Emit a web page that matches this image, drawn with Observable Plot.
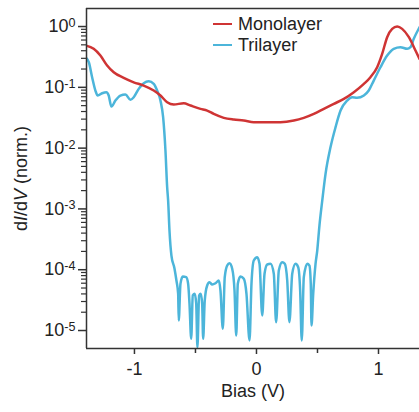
<!DOCTYPE html>
<html><head><meta charset="utf-8">
<script src="https://cdn.jsdelivr.net/npm/d3@7"></script>
<script src="https://cdn.jsdelivr.net/npm/@observablehq/plot@0.6"></script>
<style>
body{margin:0;background:#fff;}
#wrap{position:relative;width:419px;height:412px;font-family:Arial,"Liberation Sans",sans-serif;overflow:hidden;}
.legend{position:absolute;left:213px;top:13.5px;font-size:18px;color:#222;}
.legend .row{display:flex;align-items:center;height:21px;}
.legend .sw{display:inline-block;width:19px;height:2.5px;margin-right:6px;}
</style></head><body><div id="wrap"></div>
<script>
// ---- data ----
const seriesNames = ["Monolayer", "Trilayer"];
const seriesColors = ["#cf3434", "#4cb5da"];

const monoBias = [-1.396,-1.334,-1.279,-1.224,-1.170,-1.088,-1.006,-0.924,-0.842,-0.787,-0.732,-0.678,-0.596,-0.541,-0.459,-0.404,-0.350,-0.268,-0.186,-0.104,-0.022,0.087,0.197,0.306,0.388,0.470,0.552,0.634,0.716,0.798,0.880,0.934,0.989,1.030,1.071,1.112,1.153,1.194,1.249,1.303,1.336];
const monoDIdV = [0.486,0.430,0.333,0.229,0.177,0.143,0.121,0.107,0.0885,0.0733,0.0569,0.0521,0.0548,0.0502,0.0443,0.0415,0.0366,0.0315,0.0295,0.0284,0.0267,0.0267,0.0267,0.0284,0.0315,0.0366,0.0443,0.0535,0.0646,0.0832,0.114,0.147,0.214,0.355,0.668,0.916,1.0,0.916,0.668,0.403,0.294];

const triBias = [-1.396,-1.374,-1.347,-1.320,-1.301,-1.265,-1.230,-1.211,-1.189,-1.156,-1.115,-1.074,-1.033,-1.006,-0.965,-0.924,-0.883,-0.842,-0.814,-0.787,-0.765,-0.746,-0.732,-0.724,
  -0.713,-0.697,-0.672,-0.656,-0.642,-0.637,
  -0.623,-0.604,-0.576,-0.560,-0.549,-0.535,-0.522,-0.506,-0.494,-0.484,-0.470,-0.457,-0.445,-0.437,-0.424,-0.404,-0.385,-0.363,-0.336,-0.309,-0.295,-0.276,
  -0.260,-0.240,-0.221,-0.199,-0.180,-0.166,-0.153,-0.131,-0.104,-0.082,-0.057,-0.041,-0.022,0.006,0.025,0.047,0.066,0.088,0.115,0.142,0.161,
  0.183,0.211,0.232,0.252,0.270,0.293,0.320,0.342,0.358,0.371,0.388,0.416,0.434,0.445,0.451,0.465,0.484,0.498,0.516,0.539,
  0.566,0.607,0.648,0.689,0.743,0.784,0.825,0.880,0.920,0.961,1.016,1.071,1.125,1.180,1.235,1.262,1.289,1.336];
const triDIdV = [0.305,0.259,0.147,0.0885,0.0733,0.080,0.0832,0.0733,0.0483,0.0607,0.0733,0.0762,0.0622,0.0687,0.0944,0.117,0.126,0.114,0.0885,0.0607,0.0323,0.00914,0.00228,0.00137,
  4.42e-4,1.71e-4,1.05e-4,6.64e-5,4.02e-5,1.46e-5,
  5.86e-5,7.73e-5,7.53e-5,5.86e-5,2.78e-5,7.3e-6,3.77e-5,4.02e-5,2.78e-5,5.3e-6,3.77e-5,4.02e-5,2.75e-5,7.3e-6,3.11e-5,5.5e-5,6.22e-5,5.71e-5,6.0e-5,6.64e-5,4.55e-5,1.07e-5,
  7.53e-5,1.17e-4,1.28e-4,1.04e-4,4.55e-5,8.3e-6,5.86e-5,7.73e-5,7.08e-5,4.02e-5,6.85e-6,5.86e-5,1.42e-4,1.61e-4,1.25e-4,1.77e-5,8.57e-5,1.22e-4,1.25e-4,8.57e-5,1.37e-5,
  9.7e-5,1.33e-4,1.25e-4,6.64e-5,1.37e-5,8.57e-5,1.25e-4,1.10e-4,4.55e-5,6.85e-6,7.53e-5,1.25e-4,1.17e-4,5.86e-5,1.21e-5,4.02e-5,1.25e-4,2.07e-4,5.33e-4,1.37e-3,
  3.78e-3,0.0104,0.0221,0.0415,0.0607,0.0687,0.0671,0.0733,0.0885,0.129,0.214,0.333,0.430,0.457,0.430,0.457,0.628,0.973];

const xTicks = [-1, 0, 1];
const xMinorTicks = [-0.5, 0.5];
const yTicks = [1, 1e-1, 1e-2, 1e-3, 1e-4, 1e-5];
const yTickExponents = ["0", "-1", "-2", "-3", "-4", "-5"];
const xLabel = "Bias (V)";
const yLabel = "dI/dV (norm.)";

// ---- build ----
const data = [
  ...triBias.map((b, i) => ({bias: b, v: triDIdV[i], series: "Trilayer"})),
  ...monoBias.map((b, i) => ({bias: b, v: monoDIdV[i], series: "Monolayer"}))
];
const yMinor = [];
for (const t of yTicks) for (let k = 2; k <= 9; k++) yMinor.push(t * k);
const yMinorTicks = yMinor.filter(v => v < 1.98 && v > 5.06e-6);

const xDomain = [-1.393, 1.336];
const yDomain = [5.06e-6, 1.98];
const axisColor = "#333";

const plot = Plot.plot({
  width: 419, height: 412,
  marginLeft: 86, marginRight: 0, marginTop: 8, marginBottom: 64,
  style: {fontFamily: 'Arial, "Liberation Sans", sans-serif', fontSize: "18px", color: "#222", background: "#fff", overflow: "hidden"},
  x: {domain: xDomain},
  y: {type: "log", domain: yDomain},
  color: {domain: seriesNames, range: seriesColors},
  marks: [
    Plot.line(data, {x: "bias", y: "v", z: "series", stroke: "series", strokeWidth: 2.5, curve: "monotone-x", clip: true}),
    Plot.ruleY([yDomain[1]], {stroke: axisColor, strokeWidth: 1.5}),
    Plot.ruleY([yDomain[0]], {stroke: axisColor, strokeWidth: 1.5}),
    Plot.ruleX([xDomain[0]], {stroke: axisColor, strokeWidth: 1.5}),
    Plot.axisX({ticks: xTicks, tickSize: 6, tickPadding: 8, stroke: axisColor, strokeWidth: 1.5,
      tickFormat: d => (d < 0 ? "-" + Math.abs(d) : String(d)),
      label: xLabel, labelAnchor: "center", labelArrow: "none", labelOffset: 48}),
    Plot.axisX({ticks: xMinorTicks, tickSize: 5, stroke: axisColor, strokeWidth: 1.5, tickFormat: () => "", label: null}),
    Plot.axisY({ticks: yTicks, tickSize: 8, tickPadding: 3, stroke: axisColor, strokeWidth: 1.5,
      tickFormat: d => "10^" + yTickExponents[yTicks.indexOf(d)],
      label: yLabel, labelAnchor: "center", labelArrow: "none", labelOffset: 72}),
    Plot.axisY({ticks: yMinorTicks, tickSize: 5, stroke: axisColor, strokeWidth: 1.2, tickFormat: () => "", label: null})
  ]
});

// superscripts for y tick labels, italics in y label
const NS = "http://www.w3.org/2000/svg";
plot.querySelectorAll("text").forEach(t => {
  const s = t.textContent;
  if (s.startsWith("10^")) {
    t.textContent = "";
    t.appendChild(document.createTextNode("10"));
    const sup = document.createElementNS(NS, "tspan");
    sup.setAttribute("dy", "-0.42em");
    sup.setAttribute("font-size", "0.7em");
    sup.textContent = s.slice(3);
    t.appendChild(sup);
  } else if (s === yLabel) {
    t.textContent = "";
    const parts = [["d", false], ["I", true], ["/d", false], ["V", true], [" (norm.)", false]];
    for (const [p, it] of parts) {
      const ts = document.createElementNS(NS, "tspan");
      if (it) ts.setAttribute("font-style", "italic");
      ts.textContent = p;
      t.appendChild(ts);
    }
  }
});

const wrap = document.getElementById("wrap");
wrap.appendChild(plot);
const legend = document.createElement("div");
legend.className = "legend";
seriesNames.forEach((n, i) => {
  const row = document.createElement("div");
  row.className = "row";
  const sw = document.createElement("span");
  sw.className = "sw";
  sw.style.background = seriesColors[i];
  row.appendChild(sw);
  row.appendChild(document.createTextNode(n));
  legend.appendChild(row);
});
wrap.appendChild(legend);
</script>
</body></html>
